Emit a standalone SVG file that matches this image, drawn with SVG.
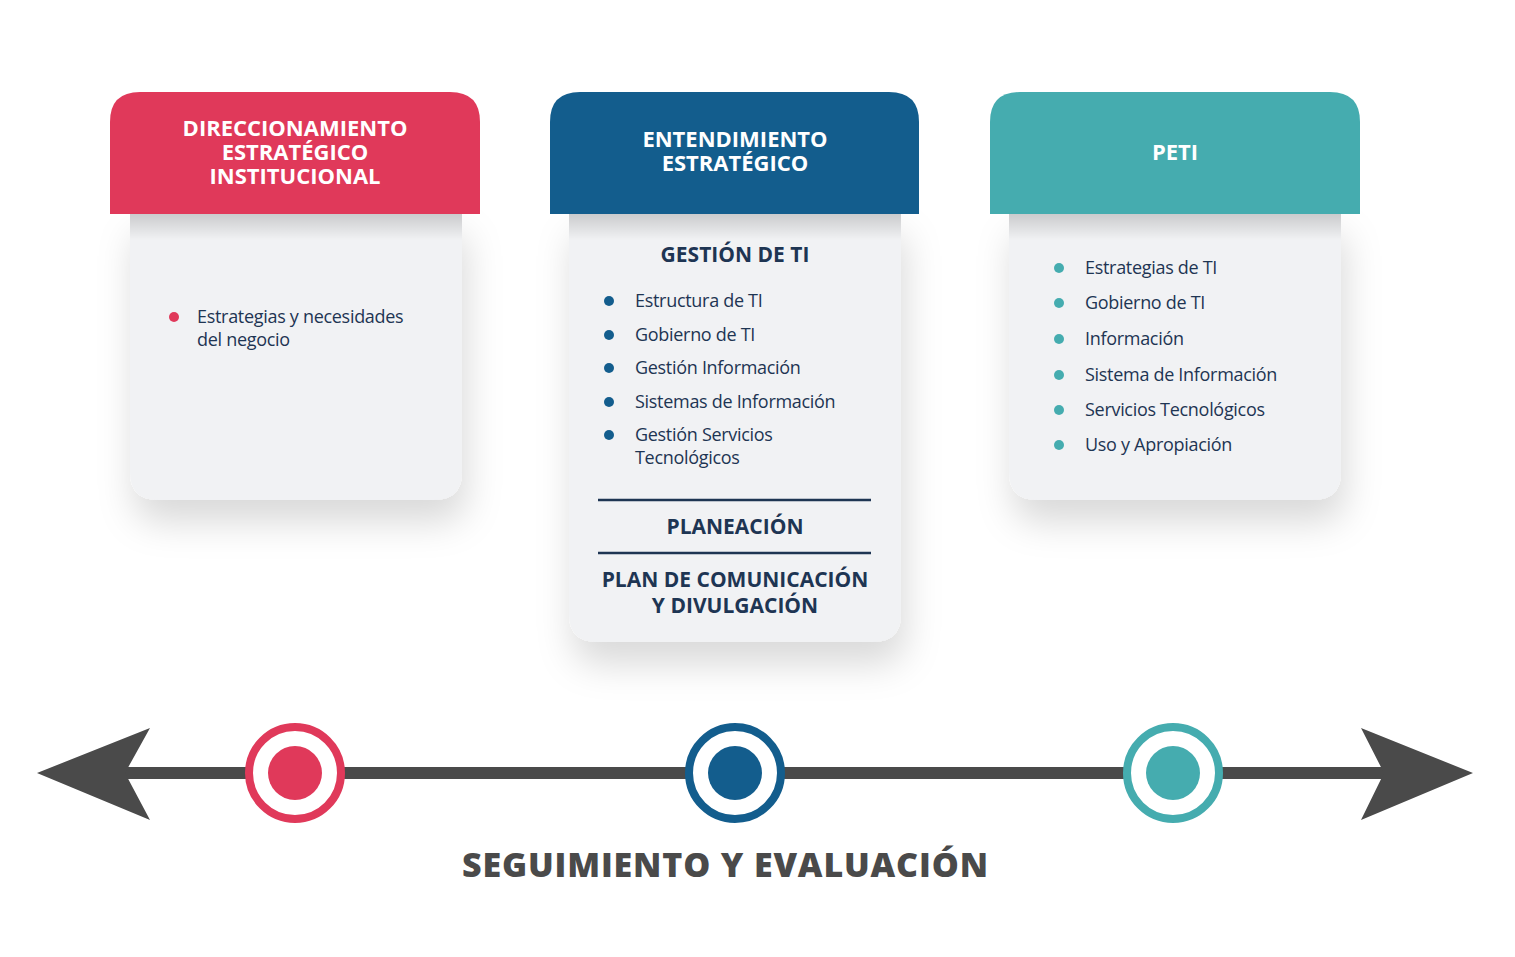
<svg xmlns="http://www.w3.org/2000/svg" width="1515" height="957" viewBox="0 0 1515 957">
<style>
.hd{font-family:"Open Sans","Liberation Sans",sans-serif;font-weight:700;font-size:22px;fill:#ffffff;text-anchor:middle}
.it{font-family:"Open Sans","Liberation Sans",sans-serif;font-size:18px;fill:#1e3553;letter-spacing:-0.3px}
.sec{font-family:"Open Sans","Liberation Sans",sans-serif;font-weight:700;font-size:21px;fill:#1e3553;text-anchor:middle}
.body{fill:#f1f2f4}
.ttl{font-family:"Open Sans","Liberation Sans",sans-serif;font-weight:800;font-size:34px;fill:#4a4a4a;text-anchor:middle}
</style>
<defs>
<filter id="sh" x="-20%" y="-20%" width="140%" height="150%">
<feDropShadow dx="4" dy="22" stdDeviation="18" flood-color="#000" flood-opacity="0.15"/>
</filter>
<linearGradient id="topsh" x1="0" y1="0" x2="0" y2="1">
<stop offset="0" stop-color="#000" stop-opacity="0.16"/>
<stop offset="1" stop-color="#000" stop-opacity="0"/>
</linearGradient>
</defs>
<rect width="1515" height="957" fill="#ffffff"/>

<g id="card-direccionamiento">
<path class="body" filter="url(#sh)" d="M130 214 H462 V472 Q462 500 434 500 H158 Q130 500 130 472 Z"/>
<rect x="130" y="214" width="332" height="26" fill="url(#topsh)"/>
<path fill="#e0395a" d="M110 214 V122 Q110 92 140 92 H450 Q480 92 480 122 V214 Z"/>
<text class="hd" x="295" y="136">DIRECCIONAMIENTO</text>
<text class="hd" x="295" y="160">ESTRATÉGICO</text>
<text class="hd" x="295" y="184">INSTITUCIONAL</text>
<circle cx="174" cy="317" r="5" fill="#e0395a"/>
<text class="it" x="197" y="323">Estrategias y necesidades</text>
<text class="it" x="197" y="346">del negocio</text>
</g>

<g id="card-entendimiento">
<path class="body" filter="url(#sh)" d="M569 214 H901 V614 Q901 642 873 642 H597 Q569 642 569 614 Z"/>
<rect x="569" y="214" width="332" height="26" fill="url(#topsh)"/>
<path fill="#135d8d" d="M550 214 V122 Q550 92 580 92 H889 Q919 92 919 122 V214 Z"/>
<text class="hd" x="735" y="147">ENTENDIMIENTO</text>
<text class="hd" x="735" y="171">ESTRATÉGICO</text>
<text class="sec" x="735" y="262">GESTIÓN DE TI</text>
<g fill="#135d8d">
<circle cx="609" cy="301" r="5"/>
<circle cx="609" cy="335" r="5"/>
<circle cx="609" cy="368" r="5"/>
<circle cx="609" cy="402" r="5"/>
<circle cx="609" cy="435" r="5"/>
</g>
<text class="it" x="635" y="307">Estructura de TI</text>
<text class="it" x="635" y="341">Gobierno de TI</text>
<text class="it" x="635" y="374">Gestión Información</text>
<text class="it" x="635" y="408">Sistemas de Información</text>
<text class="it" x="635" y="441">Gestión Servicios</text>
<text class="it" x="635" y="464">Tecnológicos</text>
<line x1="598" y1="500" x2="871" y2="500" stroke="#1e3553" stroke-width="2.5"/>
<text class="sec" x="735" y="534">PLANEACIÓN</text>
<line x1="598" y1="553" x2="871" y2="553" stroke="#1e3553" stroke-width="2.5"/>
<text class="sec" x="735" y="587">PLAN DE COMUNICACIÓN</text>
<text class="sec" x="735" y="613">Y DIVULGACIÓN</text>
</g>

<g id="card-peti">
<path class="body" filter="url(#sh)" d="M1009 214 H1341 V472 Q1341 500 1313 500 H1037 Q1009 500 1009 472 Z"/>
<rect x="1009" y="214" width="332" height="26" fill="url(#topsh)"/>
<path fill="#45acaf" d="M990 214 V122 Q990 92 1020 92 H1330 Q1360 92 1360 122 V214 Z"/>
<text class="hd" x="1175" y="160">PETI</text>
<g fill="#45acaf">
<circle cx="1059" cy="268" r="5"/>
<circle cx="1059" cy="303" r="5"/>
<circle cx="1059" cy="339" r="5"/>
<circle cx="1059" cy="375" r="5"/>
<circle cx="1059" cy="410" r="5"/>
<circle cx="1059" cy="445" r="5"/>
</g>
<text class="it" x="1085" y="274">Estrategias de TI</text>
<text class="it" x="1085" y="309">Gobierno de TI</text>
<text class="it" x="1085" y="345">Información</text>
<text class="it" x="1085" y="381">Sistema de Información</text>
<text class="it" x="1085" y="416">Servicios Tecnológicos</text>
<text class="it" x="1085" y="451">Uso y Apropiación</text>
</g>

<g id="connectors">
<rect x="120" y="767" width="1270" height="12" fill="#4a4a4a"/>
<polygon points="37,773 150,728 125,773 150,820" fill="#4a4a4a"/>
<polygon points="1473,773 1361,728 1384,773 1361,820" fill="#4a4a4a"/>
</g>

<g id="marker-red">
<circle cx="295" cy="773" r="46" fill="#ffffff" stroke="#e0395a" stroke-width="8"/>
<circle cx="295" cy="773" r="27" fill="#e0395a"/>
</g>
<g id="marker-blue">
<circle cx="735" cy="773" r="46" fill="#ffffff" stroke="#135d8d" stroke-width="8"/>
<circle cx="735" cy="773" r="27" fill="#135d8d"/>
</g>
<g id="marker-teal">
<circle cx="1173" cy="773" r="46" fill="#ffffff" stroke="#45acaf" stroke-width="8"/>
<circle cx="1173" cy="773" r="27" fill="#45acaf"/>
</g>

<text class="ttl" x="725" y="877" textLength="526" lengthAdjust="spacing">SEGUIMIENTO Y EVALUACIÓN</text>
</svg>
